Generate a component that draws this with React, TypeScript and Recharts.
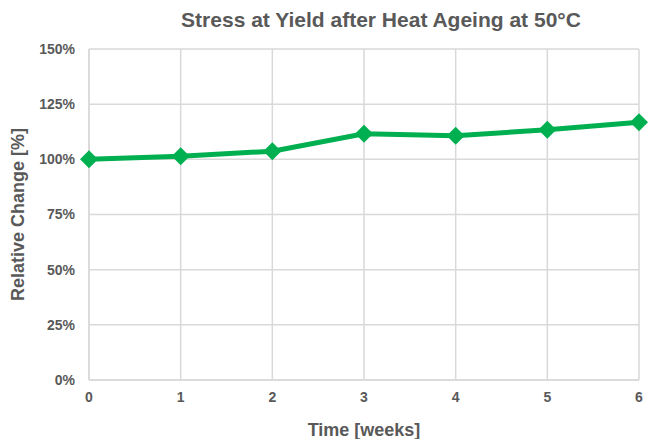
import React from "react";
import { LineChart, Line, XAxis, YAxis, CartesianGrid, Label } from "recharts";

const weeks = [0, 1, 2, 3, 4, 5, 6];
const relativeChange = [100, 101.4, 103.7, 111.6, 110.7, 113.4, 116.8];
const yTicks = [0, 25, 50, 75, 100, 125, 150];

const data = weeks.map((w, i) => ({ week: w, value: relativeChange[i] }));

const GREEN = "#00b050";
const TEXT = "#595959";
const GRID = "#d9d9d9";
const FONT = "'Liberation Sans', Arial, sans-serif";

function Diamond(props: any) {
  const { cx, cy } = props;
  if (cx == null || cy == null) return null;
  const r = 9;
  return (
    <polygon
      points={`${cx},${cy - r} ${cx + r},${cy} ${cx},${cy + r} ${cx - r},${cy}`}
      fill={GREEN}
    />
  );
}

export default function App() {
  return (
    <div
      style={{
        position: "absolute",
        left: 0,
        top: 0,
        width: 654,
        height: 439,
        background: "#fff",
        fontFamily: FONT,
      }}
    >
      <div
        style={{
          position: "absolute",
          top: 7,
          left: 108,
          width: 546,
          textAlign: "center",
          fontWeight: "bold",
          fontSize: 21,
          lineHeight: "26px",
          color: TEXT,
        }}
      >
        Stress at Yield after Heat Ageing at 50°C
      </div>
      <LineChart
        width={654}
        height={439}
        data={data}
        margin={{ top: 49, right: 15, left: 0, bottom: 0 }}
      >
        <CartesianGrid stroke={GRID} strokeWidth={1.5} />
        <XAxis
          dataKey="week"
          type="number"
          domain={[0, 6]}
          ticks={weeks}
          height={59}
          stroke={GRID}
          strokeWidth={1.5}
          tickLine={false}
          tickMargin={6}
          tick={{ fill: TEXT, fontSize: 14, fontWeight: "bold", fontFamily: FONT }}
        >
          <Label
            value="Time [weeks]"
            position="insideBottom"
            offset={3}
            style={{ fill: TEXT, fontSize: 18, fontWeight: "bold", fontFamily: FONT }}
          />
        </XAxis>
        <YAxis
          type="number"
          domain={[0, 150]}
          ticks={yTicks}
          width={89}
          stroke={GRID}
          strokeWidth={1.5}
          tickLine={false}
          tickMargin={8}
          tickFormatter={(v) => `${v}%`}
          tick={{ fill: TEXT, fontSize: 14, fontWeight: "bold", fontFamily: FONT }}
        >
          <Label
            value="Relative Change [%]"
            angle={-90}
            position="insideLeft"
            offset={18}
            style={{
              fill: TEXT,
              fontSize: 18,
              fontWeight: "bold",
              fontFamily: FONT,
              textAnchor: "middle",
            }}
          />
        </YAxis>
        <Line
          type="linear"
          dataKey="value"
          stroke={GREEN}
          strokeWidth={5}
          dot={<Diamond />}
          activeDot={false}
          isAnimationActive={false}
        />
      </LineChart>
    </div>
  );
}
